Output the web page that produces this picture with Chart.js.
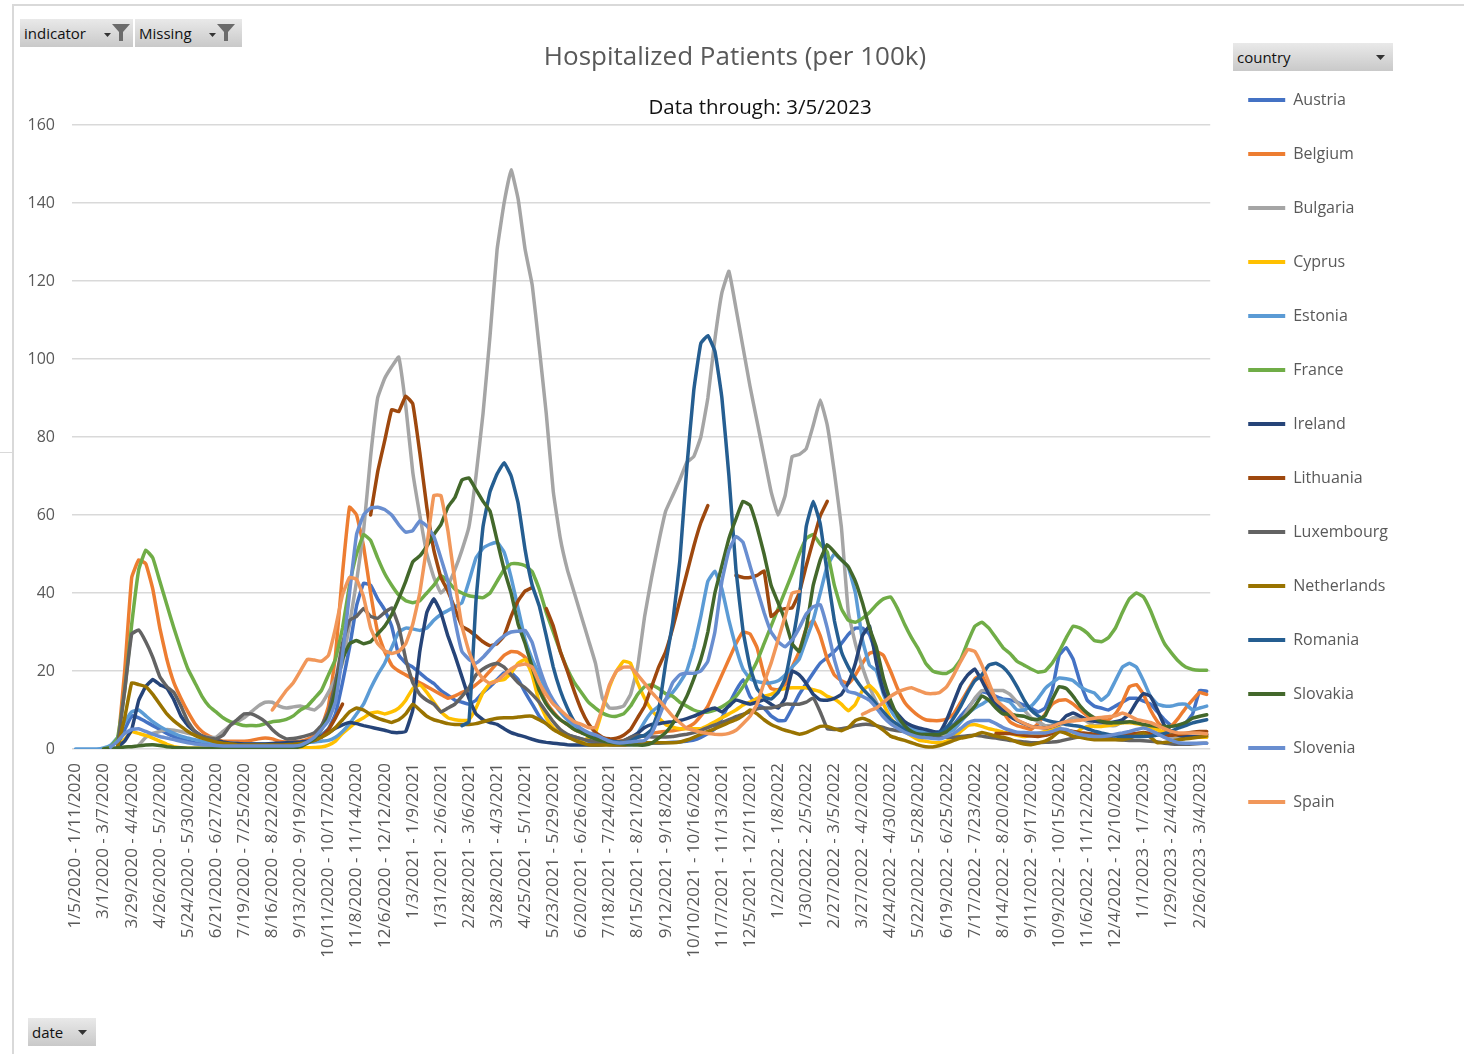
<!DOCTYPE html>
<html>
<head>
<meta charset="utf-8">
<title>Hospitalized Patients (per 100k)</title>
<script src="https://cdn.jsdelivr.net/npm/chart.js@4.4.1/dist/chart.umd.min.js"></script>
<style>
  body { margin: 0; width: 1464px; height: 1054px; background: #fff; position: relative; overflow: hidden; font-family: "Open Sans", sans-serif; }
  #wrap { position: absolute; left: 0; top: 0; width: 1464px; height: 1054px; }
  .frame { position: absolute; background: #d9d9d9; }
  .btn { position: absolute; height: 28px; background: linear-gradient(#e9e9e9, #c9c9c9); color: #111; font-size: 15px; line-height: 28px; box-sizing: border-box; padding-left: 4px; }
  .btn svg { position: absolute; }
  #title { position: absolute; left: 435px; width: 600px; top: 38px; text-align: center; font-size: 26px; color: #595959; line-height: 34px; }
  #subtitle { position: absolute; left: 560px; width: 400px; top: 91px; text-align: center; font-size: 20.5px; color: #111; line-height: 30px; }
</style>
</head>
<body>
<div class="frame" style="left:13px;top:4px;width:1451px;height:2px"></div>
<div class="frame" style="left:12px;top:4px;width:2px;height:1050px"></div>
<div class="frame" style="left:0;top:452px;width:12px;height:1px"></div>
<div id="wrap"><canvas id="chart"></canvas></div>
<div id="title">Hospitalized Patients (per 100k)</div>
<div id="subtitle">Data through: 3/5/2023</div>

<div class="btn" style="left:20px;top:19px;width:113px">indicator
  <svg style="left:84px;top:14px" width="7" height="5"><polygon points="0,0 7,0 3.5,4" fill="#333"/></svg>
  <svg style="left:92px;top:5px" width="18" height="18"><polygon points="0,0 18,0 11,8 11,17 7,17 7,8" fill="#6b6b6b"/></svg>
</div>
<div class="btn" style="left:135px;top:19px;width:107px">Missing
  <svg style="left:74px;top:14px" width="7" height="5"><polygon points="0,0 7,0 3.5,4" fill="#333"/></svg>
  <svg style="left:82px;top:5px" width="18" height="18"><polygon points="0,0 18,0 11,8 11,17 7,17 7,8" fill="#6b6b6b"/></svg>
</div>
<div class="btn" style="left:1233px;top:43px;width:160px">country
  <svg style="left:143px;top:12px" width="9" height="5"><polygon points="0,0 9,0 4.5,5" fill="#333"/></svg>
</div>
<div class="btn" style="left:28px;top:1018px;width:68px">date
  <svg style="left:50px;top:12px" width="9" height="5"><polygon points="0,0 9,0 4.5,5" fill="#333"/></svg>
</div>

<script>
// weeks: first week of Jan 2020, then weekly from 2/9/2020
const firstWeekStart = [2020, 0, 5];
const weeklyStart = [2020, 1, 9];
const weeklyCount = 161;

const countries = ["Austria", "Belgium", "Bulgaria", "Cyprus", "Estonia", "France", "Ireland",
  "Lithuania", "Luxembourg", "Netherlands", "Romania", "Slovakia", "Slovenia", "Spain"];
const colors = ["#4472C4", "#ED7D31", "#A5A5A5", "#FFC000", "#5B9BD5", "#70AD47", "#264478",
  "#9E480E", "#636363", "#997300", "#255E91", "#43682B", "#698ED0", "#F1975A"];

const yTicks = [0, 20, 40, 60, 80, 100, 120, 140, 160];

const austria = [
  null,null,null,null,null,null,1,5,8.5,8,
  7,6,5,4,3.2,2.5,2,1.6,1.3,1.1,
  1,0.9,0.9,0.9,0.9,0.9,1,1,1.1,1.1,
  1.2,1.2,1.3,1.8,2.5,3.5,5.2,9,17,26,
  36.7,42.5,42,38.5,35.7,31.5,24.1,22,21,19.5,
  18,16.8,15,13.8,12.5,12,11.5,12.5,14.5,16,
  17.8,19.5,19.5,17.8,14.5,11.5,8.4,6.5,5.2,4.3,
  3.6,3.1,2.6,2,1.6,1.3,1.1,1,1,1.1,
  1.3,1.5,1.5,1.5,1.6,1.7,1.8,2,2.3,3,
  4,5.2,8,11.5,15,17.8,13.5,11.5,10.5,8.5,
  7.3,7.3,10.5,14,16.8,19.5,22,23.5,25,27,
  29.4,31,31,29.4,24,16,10.5,8,6.5,5.2,
  4.6,4.3,4.2,4.5,5.5,6.3,8.5,10.5,12.8,14.7,
  14.2,13.5,12.8,12.6,12,11.2,10.5,9.5,10.5,15,
  24,26,23,17,12.5,11,10.5,10,11,12,
  13,13,12.3,11.5,9.5,7.5,6,6,6.7,9,
  15,14.8
];
const belgium = [
  null,null,null,null,null,null,0.5,20,44,48.5,
  47.5,41,31,23,17,13,9.5,6.5,4.5,3.3,
  2.5,2,2,2,2,2.2,2.6,2.8,2.6,2,
  1.8,1.8,2,2.5,3.5,5.5,11,24,45,62,
  60,52,40,30,25,21.5,20,19,18,17,
  16,15,14,13,13.6,14.5,15.2,16.5,18,20,
  22,24,25,24.8,23.5,21,16,12,9.5,7.5,
  6.3,5,4.2,3.6,3.1,2.6,2.2,2,2.2,2.5,
  3,3.5,4,4.3,4.5,4.7,5,5.5,6.5,8.5,
  11,15,19,23,27,30,29.5,26,19,15.5,
  15.2,16.5,21,25,31,33,29,23,19,17.5,
  16.8,19,22,24.5,25,24,20,15.5,12,10,
  8.5,7.5,7.3,7.3,7.7,9,12,15,18,19,
  15,12,9.5,7,6,5.5,5,6.5,9,11.5,
  12.5,12.6,11.5,10,8.5,7.5,7.5,7.5,9,12,
  16,16.5,14,10,7,5,6,8,10.5,12.6,
  14.5,14
];
const bulgaria = [
  null,null,null,null,null,null,null,null,null,1,
  3,4,4.5,5,4.8,4.5,4,3.7,3.3,3,
  3,4.5,6,7,8,9.5,11,12,12,11,
  10.5,10.8,11,10.5,10,11.5,14.5,18,22,32,
  43,56,75,90,95,98,100.5,88,71,60,
  50,44,40,42,46,51,57,70,86,106,
  128,140,148.5,141,128,119,103,86,66,54,
  46,40,34,28,22,13,10.5,10.5,11,14,
  21,34,44,53,61,65,69,73.5,75,80,
  90,105,117,122.5,113,103,93,84,75,66,
  60,65,75,75.5,77,83,89.5,83,71,57,
  35,27,21,16,12,9,7,6,5,4.5,
  4,4,4,4,4,5,7,10,13,15,
  15,15,15,14,12,10,8,7,6,6,
  6,7,8,8,7,6,6,6,6,7,
  7,7,6,5,4,3,3,3,3,3,
  3,3
];
const cyprus = [
  null,null,null,null,null,null,0.5,2.5,4.5,4,
  3.5,2.8,2,1.2,0.6,0.3,0.2,0.2,0.2,0.2,
  0.2,0.2,0.2,0.2,0.2,0.3,0.4,0.4,0.3,0.3,
  0.3,0.3,0.3,0.3,0.4,0.5,1,2,4,5.5,
  7,8,9.2,9.5,9,9.5,10.5,12.5,15.5,16.5,
  14.5,12,9.5,8,7.5,7.3,7.5,10.5,14.5,16.8,
  17.5,17.8,19.5,22,23,19,12,8,5.5,4,
  3.1,2.5,2.1,2.8,4.2,10,16,20,22.5,22,
  17,13,10,8,6.3,5.6,5.2,5.2,5.2,5.2,
  6,7,8,9,10,11.3,12,13,13.5,14,
  15,15.5,15.7,15.7,15.7,15.2,14.7,13.5,12.8,11.5,
  9.8,11.5,15,16.3,14.5,11.5,8,6,4.5,3.3,
  2.3,2,1.7,1.6,2,3,4.5,6,6.3,5.8,
  5.2,4.8,4.3,4,3.5,3.2,3.5,4,4.5,5.2,
  5.4,4,3.5,5,5.8,5.8,5.8,6,6.3,6.7,
  6.7,6.5,6.2,5.5,5,4.2,3.8,3.5,3.3,3.1,
  3,3
];
const estonia = [
  0,0,0,0,0.3,1,3,7,9.5,10,
  8.5,7,5.8,4.8,4,3.3,2.8,2.4,2,1.8,
  1.6,1.5,1.5,1.4,1.3,1.3,1.3,1.3,1.3,1.4,
  1.5,1.6,1.6,1.7,1.8,2,2.2,3,4.5,6.5,
  9,11.5,15.5,19,22,26,30,31,30.8,30.4,
  31,33,34.5,35.5,36.5,37.5,43,49,51.5,52.5,
  53,50.5,44,36,28,23,19,15,12,9.5,
  7.5,6,4.8,3.6,2.8,2.3,2.1,1.8,1.6,2.5,
  4,7,9.5,11,12.6,14.5,17,20,26,34,
  43,45.6,41,33,26,20.5,18,17.3,17,17,
  17.5,19,21,23,28,33,40,47,50,48.5,
  46.5,40,28,21.5,20,14,10,7.5,6,5.2,
  4.6,4.3,4.2,4.2,4.2,5,7,9,10.5,11.5,
  12.6,12.6,12.6,12,10,10,11,13,15.5,17,
  18.2,18,17.5,16,15,14.4,12.5,14,17.5,21,
  22,21,17.5,13.5,11.5,11,11,11.5,11.5,10,
  10.5,11
];
const france = [
  null,null,null,null,0,0.5,3,15,32,46,
  51,49,43,37,31,25.5,20.5,17,13.5,11,
  9.5,8,7,6.5,6,6,6,6.5,7,7.2,
  7.6,8.5,10,11,13,15,19,23,31,42,
  50,55,53.5,49,45,42,39.5,38,37.5,38,
  40,42,44.5,43,41,40,39.3,39,38.8,40,
  43,46,47.5,47.5,47,45.5,41,35,30,25,
  20.5,17,14.5,12,10.5,9.2,8.5,8.4,9,11,
  14,16,16.5,15.5,14.2,13.5,12,11,10,9.5,
  9.5,10,10.8,12,13.5,16,19,22.5,27,31.5,
  36,40.5,45,50,54,55,52.5,50.5,42,36,
  33,32.5,33.5,35,37,38.5,39,36,32,28.5,
  25.5,22,20,19.5,19.4,20.5,23,27.5,31.5,32.5,
  31,28.5,26,24.5,22.5,21.5,20.5,19.7,20,22,
  25,28.5,31.5,31,29.7,27.8,27.5,28.5,31,35,
  38.5,40,39,35.5,31,27,24.6,22.5,21,20.4,
  20.2,20.2
];
const ireland = [
  null,null,null,null,null,null,0.5,2,5,12.5,
  16,17.8,16.5,15.6,12.6,8.5,6,4.5,3.3,2.6,
  2.2,1.8,1.5,1.4,1.3,1.3,1.3,1.3,1.4,1.5,
  1.6,1.7,1.8,2,2.2,3.2,4.2,5.3,6.2,6.8,
  6.5,6,5.6,5.2,4.8,4.3,4.2,4.5,10,25,
  35,38.5,35,29,24,18.5,13,9,7.5,6.8,
  6.3,5.2,4.2,3.6,3.1,2.5,2,1.7,1.5,1.3,
  1.1,1,1,1,1,1.1,1.3,1.6,2,3,
  4,5.5,6.3,6.5,6.8,7,7.3,7.8,8.4,9.2,
  10,10.5,9.5,11,12.6,12,11.5,12,12.6,11.5,
  10.5,13,20,19,16.8,14,12.6,12.5,13,14,
  17,22,29,31.5,22,14.7,11,9,7,6,
  5.4,5,4.5,4.2,7.5,12,16.5,19,20.5,17.5,
  14,11.5,10,8.4,7.3,6.5,5.8,5.6,5.4,5.8,
  6.5,8.5,9.2,8.4,7.5,7.1,6.9,6.7,7,7.5,
  9,12,14.2,13.5,10,6,4.5,3.5,3.2,3.2,
  3.2,3.7
];
const lithuania = [
  null,null,null,null,null,null,null,null,null,null,
  null,null,null,null,null,null,null,null,null,null,
  null,null,null,null,null,null,null,null,null,null,
  null,null,null,null,null,3,5,8,11.5,null,
  null,null,60,71,79,87,86.5,90.5,88.5,76,
  62,51,44,40.5,36,31.5,30.4,29,27.5,26.5,
  27,29,34,38,40.5,41.4,null,36,31.5,25,
  20,14.7,10,6.5,4.2,3,2.6,2.8,3.5,5,
  8,11,16,21,25,31,38,45,52,58,
  62.4,null,null,null,44.5,44,44,44.5,45.6,34,
  35.5,36,36.2,40,47,53.5,59.8,63.5,null,null,
  null,null,null,null,null,null,null,null,null,null,
  null,null,null,null,null,null,null,null,null,null,
  null,4,4,4,3.8,3.5,3.3,3.2,3.5,4,
  4.5,4.8,4.5,4.2,4,3.8,3.6,3.5,3.5,3.6,
  3.8,4,4.2,4,3.8,3.6,3.5,3.7,4,4.3,
  4.5,4.5
];
const luxembourg = [
  null,null,null,null,null,null,1,15,29.5,30.5,
  27.5,23.5,18.5,16,14.5,11,7,4.5,3.3,2.8,
  2.6,3.5,6,7.5,9,9,8.2,7,5,3.5,
  2.6,2.7,3,3.5,4.2,6,9.5,17,27,33,
  34,36,34,33.5,35,36.2,31.5,23,17,14,
  12.5,11.5,9.5,10.5,11.5,13.5,15.7,19,20.5,21.5,
  22,21,19,17,15.7,14,12,9.5,7,5,
  3.8,3.1,2.6,2.2,2,1.8,1.6,1.8,2.1,3,
  3.5,3.3,3.1,3.1,3.1,3.2,3.5,3.8,4.2,4.8,
  5.5,6.2,6.8,7.5,8.3,8.9,9.5,10.3,10.5,10.5,
  11,11.5,11.5,11.5,12,13.1,9.5,5.2,5,5.2,
  5.5,6,6.3,6.3,6,5.5,5,4.7,4.5,4,
  3.5,3.1,3,3,3,3,3.2,3.4,3.5,3.3,
  3,2.8,2.5,2.2,2,1.8,1.6,1.6,1.7,1.8,
  2,2.4,2.8,3.2,3.5,3.3,3,2.8,2.5,2.3,
  2.2,2.2,2.1,2,1.8,1.5,1.3,1.2,1.2,1.3,
  1.4,1.5
];
const netherlands = [
  null,null,null,null,null,null,0.5,8,17,16.5,
  16,14,11.5,9,7.2,5.8,4.5,3.5,2.8,2.3,
  1.8,1.5,1.3,1.1,1,1,1,1,1,1,
  1.1,1.2,1.4,1.7,2.2,3,4,5.5,7.5,9.5,
  10.5,10,8.8,7.9,7.3,6.8,7.5,9,11.5,10,
  8.4,7.5,7,6.5,6.3,6.3,6.3,6.5,7,7.5,
  7.9,8,8,8.2,8.4,8.4,7.5,6.5,5,4,
  3.1,2.3,1.6,1.1,1,1,1,1,1,1.2,
  1.4,1.6,1.6,1.6,1.6,1.6,1.8,2.3,3,3.8,
  4.5,5.2,6,6.8,7.5,8.6,10,9,7.5,6.3,
  5.5,4.8,4.3,3.8,4.2,5,5.8,5.8,5.2,4.7,
  5.5,7.3,7.9,7.2,6,4.8,3.3,2.7,2.2,1.6,
  1,0.6,0.5,0.9,1.5,2.2,2.8,3.1,3.6,4.2,
  3.8,3.3,3,2.5,1.8,1.3,1.1,1.5,2,3,
  4.5,4,3.2,3,2.6,2.4,2.4,2.4,2.4,2.4,
  2.8,3.5,4.1,3,1.6,1.7,2,2.4,2.6,2.8,
  3.1,3.3
];
const romania = [
  null,null,null,null,null,null,null,null,null,null,
  null,null,null,null,null,null,null,null,null,null,
  null,null,null,null,null,null,null,null,null,null,
  null,null,null,null,null,null,null,null,null,null,
  null,null,null,null,null,null,null,null,null,null,
  null,null,null,null,null,6,7,38,57,66,
  70.5,73.4,70,63,51,42,36.7,29,21,15,
  10.5,7,5,3.7,3,2.4,2.1,1.8,1.6,2,
  3,3.5,5,10,22,32.5,48,72,92,104,
  106,102,90,70,46,30.4,21,15.5,13.3,12.8,
  14.5,18,27,38,57,63.5,57.7,45,33,25,
  21,18,15.5,13.6,11.5,9.5,7.5,6.3,5,4.2,
  3.8,3.7,3.8,4.1,5.5,8,11,14.5,17.5,19,
  21.5,22,21,19,16,12.6,10,8.5,7.5,7,
  6.7,6.3,6,5.8,5.2,4.6,4.1,3.7,3.3,3.2,
  3.2,3.2,3.2,3.3,3.6,4,4.6,5.4,6,6.7,
  7.1,7.5
];
const slovakia = [
  null,null,null,null,0,0.2,0.3,0.5,0.6,0.8,
  1,1.1,0.9,0.6,0.4,0.3,0.2,0.2,0.2,0.2,
  0.2,0.2,0.2,0.2,0.2,0.2,0.2,0.2,0.2,0.2,
  0.2,0.3,0.6,1.5,2.6,5,8.4,15,23,27,
  27.8,27,27.5,29.5,31.5,34.5,38.5,43,48,49.5,
  52,55,57.5,62,64.5,69,69.5,66.5,63.5,61,
  53.5,46,40,32,27,21,15,11.5,9.2,7.5,
  6.3,5,4.2,3.3,2.6,2.1,1.7,1.5,1.3,1.1,
  1,1,1.5,2.8,4.2,6.5,10,13.5,18,23,
  30,40,47,54,59,63.5,62.5,57,50,42,
  37.5,33,27,25,31,42,48.5,52.4,50.5,48.5,
  46.7,43,37.5,31,26,18,12.5,8.5,6,4.5,
  3.8,3.7,3.7,3.7,4.5,6,7.5,9,11,13.6,
  12.5,10.5,9,9,8.6,8.4,7.7,7.6,8.5,12.6,
  16,15.5,13.5,11,9.2,8,7.1,6.8,6.7,6.8,
  7,6.7,6.3,6,5.8,5.8,5.8,6.2,6.8,7.9,
  8.4,8.8
];
const slovenia = [
  null,null,null,null,null,0.5,2,4,5,5.2,
  4.5,3.8,3.2,2.8,2.4,2,1.6,1.3,1.1,1,
  0.9,0.8,0.8,0.8,0.8,0.8,0.8,0.8,0.8,0.8,
  0.8,0.8,1,1.8,3,5,7.3,12,24,40,
  55,60,61.8,62,61.4,60,57.5,55.6,56,58.5,
  57.2,54.5,49,43,33,25,23,22,23.5,25.5,
  27.5,29,30,30.2,30.4,27.3,21,16,12.5,10,
  8,6.5,5.2,4.2,3.6,2.8,2,1.6,1.6,1.8,
  2,2.2,4,8,12.6,17,19,19.4,19.4,20,
  22.5,30,43,51,54.5,53,47,41,35,30,
  27.5,26.2,28,31,34.6,36.5,37,31,23,17,
  14.7,14.3,13.5,12.5,10.5,8.2,6.5,5.3,4.3,3.6,
  3.1,2.9,2.7,2.6,3.2,4,5.3,6.7,7.3,7.3,
  7.3,6.5,5.5,4.8,4.3,4.2,4.1,4.1,4.1,4.5,
  5.2,5,4.3,3.7,3.4,3.2,3.2,3.4,3.8,4.1,
  4.5,5,5.4,4.8,3.8,3,2.2,1.6,1.5,1.5,
  1.5,1.5
];
const spain = [
  null,null,null,null,null,null,null,null,null,null,
  null,null,null,null,null,null,null,null,null,null,
  null,null,null,null,null,null,null,null,10,12.5,
  15,17,20,23,22.8,22.5,24,31,39.5,44,
  43.5,39,31,27,25.2,24.5,25,27,32,40,
  52,65,65,56,43,31.5,25,20.5,18,16.8,
  17.5,19,20.5,21.5,21.8,21,17,14,11.5,10,
  8.4,7,6.3,5.5,5.5,10.5,16.5,20,21,21,
  19,16.8,14.5,12.6,10.5,8.4,6.8,5.3,4.8,4.3,
  4,3.8,3.7,4,4.8,6.5,8.4,11.5,17,22,
  28,34,40,40.4,null,null,null,null,null,null,
  null,null,8.9,9.8,10.5,12,13.5,14.6,15.3,15.7,
  15,14.3,14.2,14.5,16,19,22.5,25.5,25,21.5,
  17,12.6,11,9.5,7.5,6.6,5.8,5.5,5.4,5.8,
  6.5,7,7.2,7.4,7.6,7.9,8.1,8.3,8.5,9.2,
  8.5,7.6,7.2,6.8,6,5.2,4.5,4.1,4.1,4.1,
  4.1,3.9
];

const seriesValues = [austria, belgium, bulgaria, cyprus, estonia, france, ireland,
  lithuania, luxembourg, netherlands, romania, slovakia, slovenia, spain];

function fmtDate(d) {
  return (d.getUTCMonth() + 1) + "/" + d.getUTCDate() + "/" + d.getUTCFullYear();
}
const weekStarts = [new Date(Date.UTC(...firstWeekStart))];
for (let i = 0; i < weeklyCount; i++) {
  weekStarts.push(new Date(Date.UTC(weeklyStart[0], weeklyStart[1], weeklyStart[2] + 7 * i)));
}
const weekLabels = weekStarts.map(d => fmtDate(d) + " - " + fmtDate(new Date(d.getTime() + 6 * 864e5)));

const datasets = countries.map((name, i) => ({
  label: name,
  data: seriesValues[i],
  borderColor: colors[i],
  backgroundColor: colors[i],
  borderWidth: 3.5,
  pointRadius: 0,
  pointHoverRadius: 0,
  tension: 0.1,
  fill: false,
  borderCapStyle: "round",
  borderJoinStyle: "round",
  // later series sit on top, like the spreadsheet
  order: countries.length - i
}));

const gray = "#595959";
const ctx = document.getElementById("chart").getContext("2d");
new Chart(ctx, {
  type: "line",
  data: { labels: weekLabels, datasets: datasets },
  options: {
    responsive: true,
    maintainAspectRatio: false,
    animation: false,
    layout: { padding: { top: 0, right: 66, bottom: 0, left: 0 } },
    plugins: {
      // empty title only reserves room above the plot
      title: { display: true, text: "", padding: 0, font: { size: 10, lineHeight: "125px" } },
      tooltip: { enabled: false },
      legend: {
        position: "right",
        align: "start",
        title: { display: true, text: " ", padding: 0, font: { size: 10, lineHeight: "54px" } },
        labels: {
          boxWidth: 37,
          boxHeight: 4,
          padding: 38,
          color: gray,
          font: { family: "Open Sans", size: 16 },
          sort: (a, b) => a.datasetIndex - b.datasetIndex,
          generateLabels: chart => Chart.defaults.plugins.legend.labels.generateLabels(chart)
            .map(item => Object.assign(item, { lineWidth: 0 }))
        }
      }
    },
    scales: {
      x: {
        offset: true,
        grid: { display: false, drawTicks: false },
        border: { display: false },
        afterFit: scale => { scale.height = 305; },
        ticks: {
          autoSkip: false,
          minRotation: 90,
          maxRotation: 90,
          padding: 14,
          color: gray,
          font: { family: "Open Sans", size: 17 },
          callback: function (value, index) {
            return index % 4 === 0 ? this.getLabelForValue(value) : "";
          }
        }
      },
      y: {
        min: yTicks[0],
        max: yTicks[yTicks.length - 1],
        afterFit: scale => { scale.width = 72; },
        afterBuildTicks: scale => { scale.ticks = yTicks.map(v => ({ value: v })); },
        grid: { color: "#d9d9d9", lineWidth: 1.5, drawTicks: false },
        border: { display: false },
        ticks: { padding: 17, color: gray, font: { family: "Open Sans", size: 16 } }
      }
    }
  }
});
</script>
</body>
</html>
